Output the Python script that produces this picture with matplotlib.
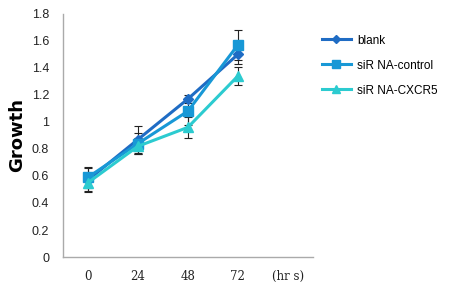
import numpy as np
import matplotlib.pyplot as plt

# time points (last slot holds the unit label)
hours = ['0', '24', '48', '72']
unit_label = '(hr s)'

blank = [0.57, 0.87, 1.17, 1.50]
blank_err = [0.09, 0.10, 0.03, 0.07]
control = [0.59, 0.84, 1.08, 1.57]
control_err = [0.08, 0.08, 0.10, 0.11]
cxcr5 = [0.55, 0.82, 0.96, 1.34]
cxcr5_err = [0.06, 0.06, 0.08, 0.07]

names = ['blank', 'siRNA-control', 'siRNA-CXCR5']
colors = ['#1f6cc4', '#1898d6', '#2ccbd0']
markers = ['D', 's', '^']
msizes = [5, 7, 7]

fig = plt.figure(figsize=(4.56, 2.84), dpi=100)
ax = fig.add_axes([0.138, 0.095, 0.548, 0.856])

x = np.arange(1, len(hours) + 1)
series = [(blank, blank_err), (control, control_err), (cxcr5, cxcr5_err)]
for (vals, err), name, c, m, ms in zip(series, names, colors, markers, msizes):
    ax.errorbar(x, vals, yerr=err, color=c, marker=m, markersize=ms, lw=2.2,
                ecolor='#222222', elinewidth=0.8, capsize=3, capthick=0.8,
                label=name)

ax.set_xlim(0.5, 5.5)
ax.set_ylim(0, 1.8)
ax.set_yticks(np.arange(0, 1.81, 0.2))
ax.set_yticklabels(['0', '0.2', '0.4', '0.6', '0.8', '1', '1.2', '1.4', '1.6', '1.8'],
                   fontsize=9, family='Liberation Sans', color='#222222')
ax.set_xticks(list(x) + [5])
ax.set_xticklabels(hours + [unit_label], fontsize=8.5, family='DejaVu Serif',
                   color='#222222')
ax.tick_params(length=0, pad=9)
ax.tick_params(axis='y', pad=10)
for s in ['top', 'right']:
    ax.spines[s].set_visible(False)
for s in ['left', 'bottom']:
    ax.spines[s].set_color('#aaaaaa')
    ax.spines[s].set_linewidth(1.0)

ax.set_ylabel('Growth', fontsize=13, fontweight='bold', labelpad=4)

handles, labels = ax.get_legend_handles_labels()
handles = [h[0] for h in handles]
fig.legend(handles, ['blank', 'siR NA-control', 'siR NA-CXCR5'],
           loc='upper left', bbox_to_anchor=(0.695, 0.895), frameon=False,
           borderaxespad=0, handlelength=2.5, labelspacing=1.1,
           markerscale=0.8, handletextpad=0.5,
           prop={'family': 'Liberation Sans', 'size': 8.5})

plt.savefig('out.png', dpi=100)
